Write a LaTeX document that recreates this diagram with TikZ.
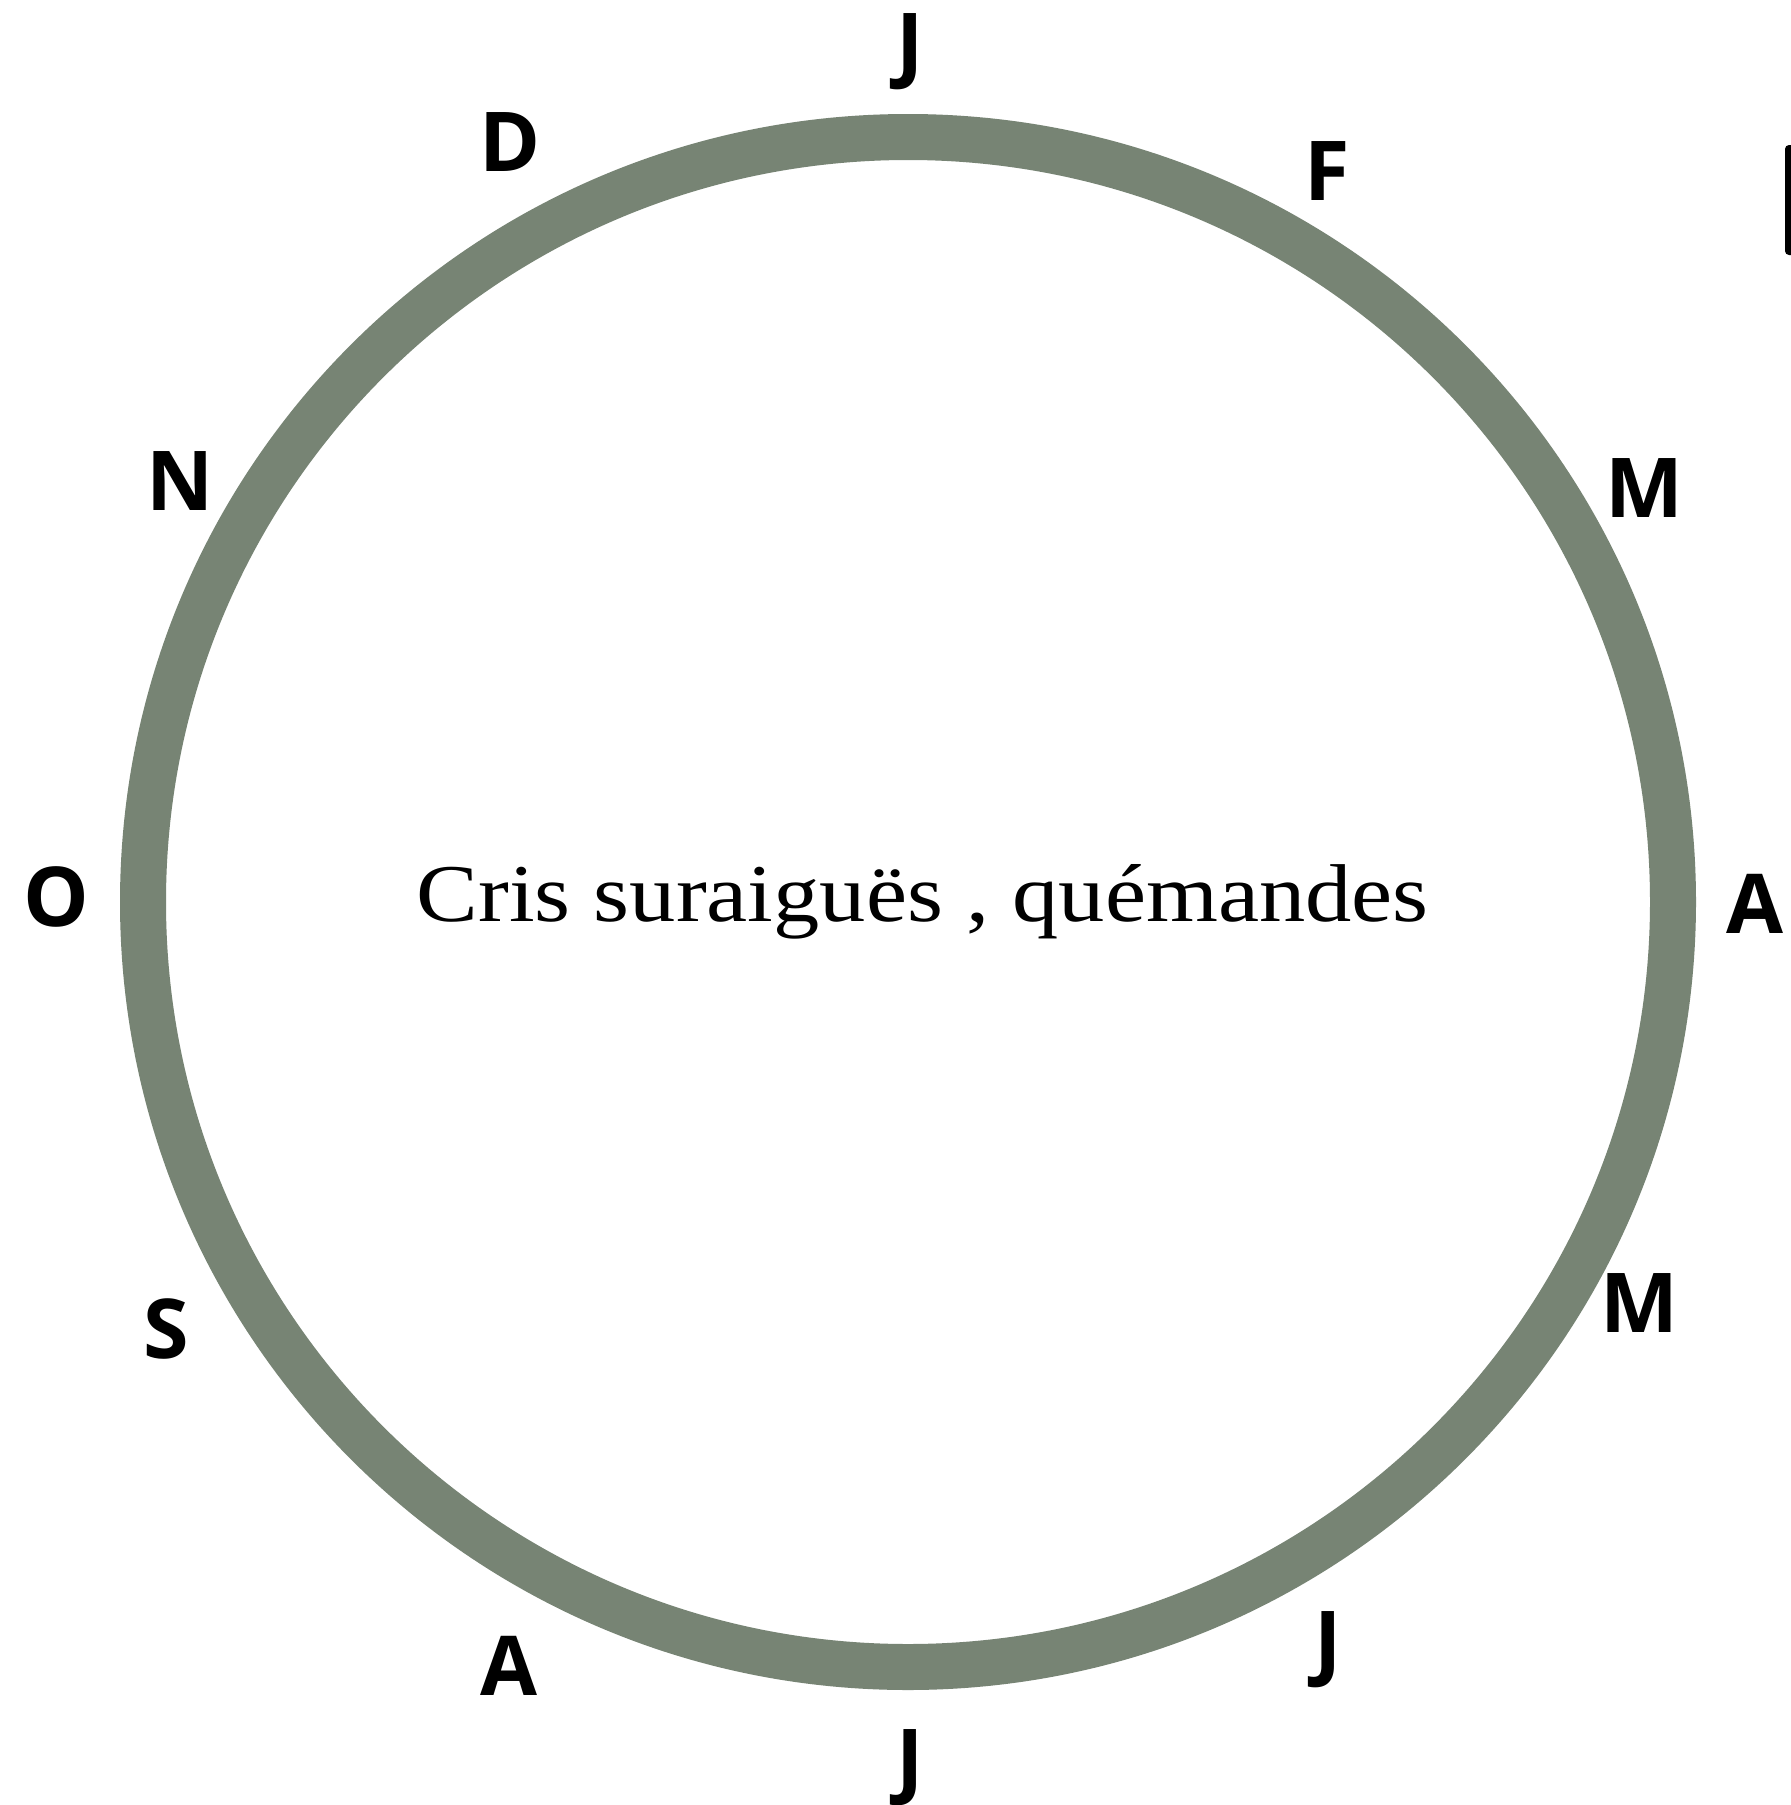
\documentclass[tikz,border=0pt]{standalone}
\usepackage{fontspec}
\setmainfont{Liberation Serif}
\newfontfamily\lettfont{Open Sans}[BoldFont={* Bold}]
\definecolor{ringcol}{RGB}{119,132,116}
\tikzset{
  month/.style={font=\lettfont\bfseries\fontsize{82.6}{90}\selectfont, inner sep=0pt, anchor=base, text=black},
  ring/.style={draw=ringcol, line width=46pt},
  centertext/.style={font=\fontsize{82}{92}\selectfont, inner sep=0pt, anchor=base, text=black}
}
\begin{document}
\begin{tikzpicture}[x=1pt,y=-1pt]
\useasboundingbox (0,0) rectangle (1791,1805);
\fill[white] (0,0) rectangle (1791,1805);
\node[ring, circle, minimum size=1530pt, inner sep=0pt] (ring) at (908,902) {};
\node[centertext] (label) at (922.6,921) {\resizebox{1012pt}{\height}{Cris suraiguës , quémandes}};
\node[month] (jan) at (910,72) {J};
\node[month] (feb) at (1327,200) {F};
\node[month] (mar) at (1644,517) {M};
\node[month] (apr) at (1755,933) {A};
\node[month] (may) at (1639,1332) {M};
\node[month] (jun) at (1328,1670) {J};
\node[month] (jul) at (910,1788) {J};
\node[month] (aug) at (509,1695) {A};
\node[month] (sep) at (166,1358) {S};
\node[month] (oct) at (56,926) {O};
\node[month] (nov) at (180,510) {N};
\node[month] (dec) at (510,171) {D};
\begin{scope}
\clip (0,0) rectangle (1791,1805);
\fill[black, rounded corners=4pt] (1785,145) rectangle (1810,255);
\end{scope}
\end{tikzpicture}
\end{document}
